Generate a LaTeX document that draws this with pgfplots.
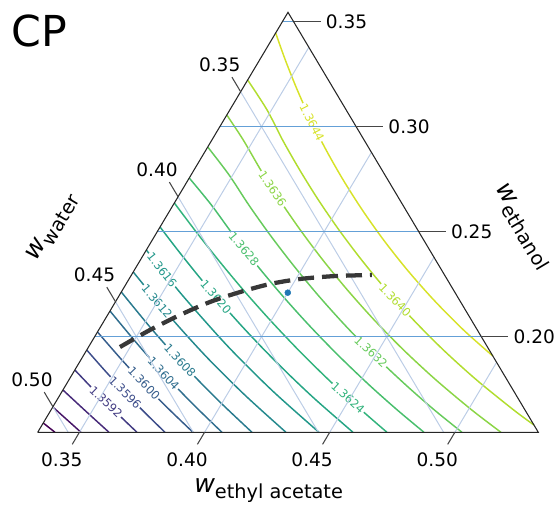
\documentclass[border=0pt]{standalone}
\usepackage{pgfplots}
\pgfplotsset{compat=1.18}
\usepackage{fontspec}
\setmainfont{DejaVu Sans}

\definecolor{c1580}{HTML}{440154}
\definecolor{c1584}{HTML}{461567}
\definecolor{c1588}{HTML}{472A79}
\definecolor{c1592}{HTML}{423B82}
\definecolor{c1596}{HTML}{3D4D8A}
\definecolor{c1600}{HTML}{365D8C}
\definecolor{c1604}{HTML}{2F6D8E}
\definecolor{c1608}{HTML}{297A8E}
\definecolor{c1612}{HTML}{24898D}
\definecolor{c1616}{HTML}{21978A}
\definecolor{c1620}{HTML}{25A584}
\definecolor{c1624}{HTML}{31B37C}
\definecolor{c1628}{HTML}{49BF6D}
\definecolor{c1632}{HTML}{67CB5C}
\definecolor{c1636}{HTML}{8BD546}
\definecolor{c1640}{HTML}{B1DD2E}
\definecolor{c1644}{HTML}{D7E228}
\definecolor{gridH}{RGB}{100,160,215}
\definecolor{gridD}{RGB}{188,205,230}
\definecolor{tickc}{RGB}{70,70,70}
\definecolor{dotc}{HTML}{1F77B4}

\pgfplotsset{
  ct/.style={line width=1.1pt, smooth, tension=0.5},
  gd/.style={gridD, line width=0.75pt},
  gh/.style={gridH, line width=0.9pt},
  tk/.style={tickc, line width=0.8pt},
}
\tikzset{
  clab/.style={font=\fontsize{8.6}{10}\selectfont, fill=white, inner sep=0.8pt},
  tlab/.style={font=\fontsize{13.9}{16}\selectfont, inner sep=0pt},
}

\begin{document}
\begin{tikzpicture}
\begin{axis}[
  scale only axis, width=418.5pt, height=379.5pt,
  xmin=0.39552, xmax=0.61845, ymin=0.11941, ymax=0.36036,
  hide axis, clip=false,
  table/x expr={\thisrow{e}+0.5*\thisrow{t}},
  table/y expr={\thisrow{t}},
]
% ---- contours (e = w ethyl acetate, t = w ethanol)
\addplot[ct, c1580] table {
e t
0.33333 0.15893
0.34024 0.1545
};
\addplot[ct, c1584] table {
e t
0.33333 0.16655
0.35063 0.1545
};
\addplot[ct, c1588] table {
e t
0.33333 0.17465
0.34765 0.16446
0.36182 0.1545
};
\addplot[ct, c1592] table {
e t
0.33333 0.18417
0.35308 0.16903
0.37300 0.1545
};
\addplot[ct, c1596] table {
e t
0.33333 0.19369
0.34596 0.18350
0.35862 0.17360
0.37137 0.16393
0.38419 0.1545
};
\addplot[ct, c1600] table {
e t
0.33333 0.20227
0.34869 0.18979
0.36411 0.17765
0.37967 0.16593
0.39538 0.1545
};
\addplot[ct, c1604] table {
e t
0.33333 0.21227
0.35152 0.19707
0.36978 0.18236
0.38831 0.16817
0.40696 0.1545
};
\addplot[ct, c1608] table {
e t
0.33333 0.22131
0.35437 0.20360
0.37564 0.18655
0.39715 0.17022
0.41895 0.1545
};
\addplot[ct, c1612] table {
e t
0.33333 0.23084
0.35770 0.21036
0.38231 0.19079
0.40725 0.17222
0.43253 0.1545
};
\addplot[ct, c1616] table {
e t
0.33333 0.24131
0.34710 0.22941
0.36083 0.21784
0.38868 0.19555
0.41696 0.17446
0.44572 0.1545
};
\addplot[ct, c1620] table {
e t
0.33333 0.25227
0.34585 0.24131
0.35977 0.22941
0.37410 0.21750
0.38892 0.20560
0.40430 0.19369
0.42025 0.18179
0.43683 0.16988
0.45930 0.1545
};
\addplot[ct, c1624] table {
e t
0.33333 0.26369
0.34789 0.25084
0.36447 0.23655
0.38159 0.22227
0.39940 0.20798
0.41789 0.19369
0.43718 0.17941
0.45731 0.16512
0.47288 0.1545
};
\addplot[ct, c1628] table {
e t
0.33333 0.27560
0.34861 0.26274
0.36450 0.24846
0.38100 0.23417
0.39817 0.21988
0.41609 0.20560
0.43486 0.19131
0.45451 0.17703
0.47169 0.16512
0.48767 0.1545
};
\addplot[ct, c1632] table {
e t
0.33333 0.29036
0.34854 0.27703
0.36355 0.26274
0.37920 0.24846
0.39554 0.23417
0.41259 0.21988
0.43047 0.20560
0.44928 0.19131
0.46914 0.17703
0.48651 0.16512
0.50285 0.1545
};
\addplot[ct, c1636] table {
e t
0.33333 0.30560
0.34587 0.29369
0.35998 0.27941
0.37467 0.26512
0.39008 0.25084
0.40622 0.23655
0.42318 0.22227
0.44103 0.20798
0.45992 0.19369
0.48001 0.17941
0.50145 0.16512
0.51843 0.1545
};
\addplot[ct, c1640] table {
e t
0.33333 0.32227
0.34824 0.30798
0.36157 0.29369
0.37556 0.27941
0.39017 0.26512
0.40554 0.25084
0.42172 0.23655
0.43873 0.22227
0.45673 0.20798
0.47582 0.19369
0.49623 0.17941
0.51819 0.16512
0.52985 0.15798
};
\addplot[ct, c1644] table {
e t
0.33333 0.34465
0.34361 0.33179
0.35555 0.31750
0.36808 0.30322
0.38134 0.28893
0.39531 0.27465
0.41009 0.26036
0.42574 0.24607
0.44235 0.23179
0.46008 0.21750
0.47909 0.20322
0.49699 0.19084
};
% ---- contour labels
\node[clab, text=c1592, rotate=-44] at (axis cs:0.43787,0.16893) {1.3592};
\node[clab, text=c1596, rotate=-45] at (axis cs:0.44546,0.17346) {1.3596};
\node[clab, text=c1600, rotate=-46] at (axis cs:0.45305,0.17788) {1.3600};
\node[clab, text=c1604, rotate=-47] at (axis cs:0.46084,0.18250) {1.3604};
\node[clab, text=c1608, rotate=-47] at (axis cs:0.46743,0.18869) {1.3608};
\node[clab, text=c1612, rotate=-50] at (axis cs:0.45825,0.21679) {1.3612};
\node[clab, text=c1616, rotate=-52] at (axis cs:0.46024,0.23179) {1.3616};
\node[clab, text=c1620, rotate=-49] at (axis cs:0.48182,0.21893) {1.3620};
\node[clab, text=c1624, rotate=-42] at (axis cs:0.53455,0.17084) {1.3624};
\node[clab, text=c1628, rotate=-50] at (axis cs:0.49300,0.24179) {1.3628};
\node[clab, text=c1632, rotate=-43] at (axis cs:0.54374,0.19274) {1.3632};
\node[clab, text=c1636, rotate=-56] at (axis cs:0.50439,0.27036) {1.3636};
\node[clab, text=c1640, rotate=-46] at (axis cs:0.55333,0.21750) {1.3640};
\node[clab, text=c1644, rotate=-63] at (axis cs:0.52017,0.30203) {1.3644};
% ---- grid: constant ethyl acetate
\addplot[gd] table {
e t
0.35 0.1545
0.35 0.33783
};
\addplot[gd] table {
e t
0.40 0.1545
0.40 0.28783
};
\addplot[gd] table {
e t
0.45 0.1545
0.45 0.23783
};
\addplot[gd] table {
e t
0.50 0.1545
0.50 0.18783
};
% ---- grid: constant water
\addplot[gd] table {
e t
0.33333 0.31667
0.4955 0.1545
};
\addplot[gd] table {
e t
0.33333 0.26667
0.4455 0.1545
};
\addplot[gd] table {
e t
0.33333 0.21667
0.3955 0.1545
};
\addplot[gd] table {
e t
0.33333 0.16667
0.3455 0.1545
};
% ---- grid: constant ethanol
\addplot[gh] table {
e t
0.33333 0.20
0.48783 0.20
};
\addplot[gh] table {
e t
0.33333 0.25
0.43783 0.25
};
\addplot[gh] table {
e t
0.33333 0.30
0.38783 0.30
};
\addplot[gh] table {
e t
0.33333 0.35
0.33783 0.35
};
% ---- dashed curve and point
\addplot[black!78, line width=3.2pt, dash pattern=on 12pt off 6pt, smooth, tension=0.5] table {
e t
0.3459 0.1951
0.3538 0.2032
0.3623 0.2104
0.3712 0.2166
0.3808 0.2213
0.3908 0.2251
0.4016 0.2275
0.4149 0.2289
0.4294 0.2294
};
\addplot[only marks, mark=*, mark size=2.2pt, dotc] table {
e t
0.4000 0.2210
};
% ---- triangle
\addplot[black!85, line width=0.8pt, line join=miter] table {
e t
0.33333 0.1545
0.53333 0.1545
0.33333 0.3545
0.33333 0.1545
};
% ---- ticks: ethyl acetate (bottom)
\addplot[tk] table {
e t
0.35 0.1545
0.35 0.14877
};
\addplot[tk] table {
e t
0.40 0.1545
0.40 0.14877
};
\addplot[tk] table {
e t
0.45 0.1545
0.45 0.14877
};
\addplot[tk] table {
e t
0.50 0.1545
0.50 0.14877
};
% ---- ticks: water (left)
\addplot[tk] table {
e t
0.33333 0.31667
0.32638 0.32362
};
\addplot[tk] table {
e t
0.33333 0.26667
0.32638 0.27362
};
\addplot[tk] table {
e t
0.33333 0.21667
0.32638 0.22362
};
\addplot[tk] table {
e t
0.33333 0.16667
0.32638 0.17362
};
% ---- ticks: ethanol (right)
\addplot[tk] table {
e t
0.33783 0.35
0.34862 0.35
};
\addplot[tk] table {
e t
0.38783 0.30
0.39862 0.30
};
\addplot[tk] table {
e t
0.43783 0.25
0.44862 0.25
};
\addplot[tk] table {
e t
0.48783 0.20
0.49862 0.20
};
% ---- tick labels
\node[tlab] at (axis cs:0.42021,0.14155) {0.35};
\node[tlab] at (axis cs:0.47021,0.14155) {0.40};
\node[tlab] at (axis cs:0.52021,0.14155) {0.45};
\node[tlab] at (axis cs:0.57021,0.14155) {0.50};
\node[tlab] at (axis cs:0.48328,0.32952) {0.35};
\node[tlab] at (axis cs:0.45828,0.27952) {0.40};
\node[tlab] at (axis cs:0.43328,0.22952) {0.45};
\node[tlab] at (axis cs:0.40828,0.17952) {0.50};
\node[tlab, anchor=west] at (axis cs:0.52562,0.35) {0.35};
\node[tlab, anchor=west] at (axis cs:0.55062,0.30) {0.30};
\node[tlab, anchor=west] at (axis cs:0.57562,0.25) {0.25};
\node[tlab, anchor=west] at (axis cs:0.60062,0.20) {0.20};
% ---- axis labels
\node[inner sep=0pt, anchor=base west] at (axis cs:0.47303,0.12560)
  {{\fontsize{19}{19}\selectfont\itshape w}{\fontsize{14.5}{15}\selectfont\raisebox{-4.5pt}{ethyl acetate}}};
\node[inner sep=0pt, anchor=base west, rotate=59.2] at (axis cs:0.41018,0.23560)
  {{\fontsize{19}{19}\selectfont\itshape w}{\fontsize{14.5}{15}\selectfont\raisebox{-4.5pt}{water}}};
\node[inner sep=0pt, anchor=base west, rotate=-59.2] at (axis cs:0.59328,0.27084)
  {{\fontsize{19}{19}\selectfont\itshape w}{\fontsize{14.5}{15}\selectfont\raisebox{-4.5pt}{ethanol}}};
\node[inner sep=0pt, anchor=base west, font=\fontsize{32}{32}\selectfont] at (axis cs:0.39992,0.33812) {CP};
\end{axis}
\pgfresetboundingbox
\useasboundingbox (current axis.south west) rectangle (current axis.north east);
\end{tikzpicture}
\end{document}
